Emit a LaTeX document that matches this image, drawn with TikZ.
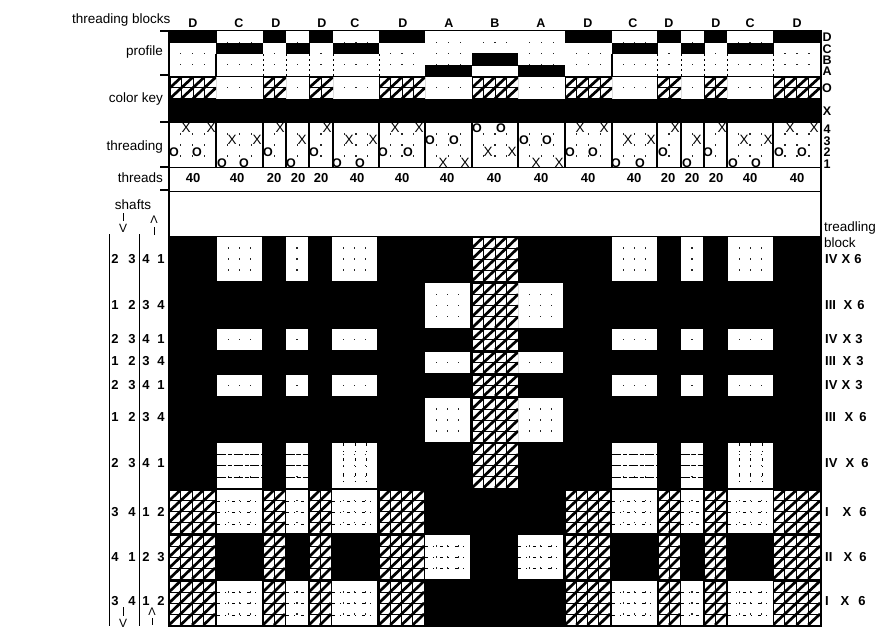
\documentclass[tikz,border=0pt]{standalone}
\usepackage{fontspec}
\setmainfont{Liberation Sans}
\newcommand\fs[1]{\fontsize{#1}{#1}\selectfont}
\tikzset{
  lab/.style={inner sep=0pt,font=\fs{13.5}},
  labr/.style={lab,anchor=east},
  labl/.style={lab,anchor=west},
  letter/.style={inner sep=0pt,font=\fs{12.5}\bfseries},
  num/.style={inner sep=0pt,font=\fs{13}\bfseries},
  mark x/.style={inner sep=0pt,font=\fs{13.5}},
  mark o/.style={inner sep=0pt,font=\fs{12.5}\bfseries},
  rule/.style={line width=1.3pt,black},
  thin rule/.style={line width=1.1pt,black},
  speck rule/.style={line width=.8pt,black,dash pattern=on 2pt off 3pt},
  graph line/.style={line width=.8pt,black,dash pattern=on 9pt off 2pt on 4pt off 1.5pt},
  graph specks/.style={line width=.8pt,black,dash pattern=on 3pt off 5pt on 1pt off 6pt},
}
% white block with faint specks at the grid points
\newcommand\wblk[6]{%
  \fill[white] (#1,#3) rectangle (#2,#4);
  \pgfmathsetmacro\dx{(#2-#1)/#5}\pgfmathsetmacro\dy{(#4-#3)/#6}
  \pgfmathtruncatemacro\nxm{#5-1}\pgfmathtruncatemacro\nym{#6-1}
  \foreach \ii in {1,...,\nxm}{\foreach \jj in {1,...,\nym}{
    \fill[black!85] ({#1+\ii*\dx-.7},{#3+\jj*\dy-.7}) rectangle ++(1.4,1.4);}}
}
% hatched block: white cells, thin grid, thick diagonals
\newcommand\hblk[6]{%
  \begin{scope}
  \clip (#1,#3) rectangle (#2,#4);
  \fill[white] (#1,#3) rectangle (#2,#4);
  \pgfmathsetmacro\dx{(#2-#1)/#5}\pgfmathsetmacro\dy{(#4-#3)/#6}
  \pgfmathtruncatemacro\nxm{#5-1}\pgfmathtruncatemacro\nym{#6-1}
  \foreach \ii in {0,...,\nxm}{\foreach \jj in {0,...,\nym}{
    \draw[line width=2.7pt] ({#1+\ii*\dx},{#3+(\jj+1)*\dy}) -- ++(\dx,-\dy);
    \draw[line width=.8pt] ({#1+\ii*\dx},{#3+\jj*\dy}) rectangle ++(\dx,\dy);}}
  \end{scope}
}
\newcommand\rowIV[3]{% white C, M; hatched B
  \foreach \a/\b/\n in {217/262/4,286/308/2,332/377/4,612/657/4,681/703/2,728/773/4}{\wblk{\a}{\b}{#1}{#2}{\n}{#3}}
  \hblk{472}{518}{#1}{#2}{4}{#3}
}
\newcommand\rowIII[3]{% white A; hatched B
  \foreach \a/\b in {425/470,518/563}{\wblk{\a}{\b}{#1}{#2}{4}{#3}}
  \hblk{472}{518}{#1}{#2}{4}{#3}
}
\newcommand\rowI[3]{% hatched D; white C, M
  \foreach \a/\b/\n in {169/215/4,263/285/2,309/331/2,379/424/4,565/610/4,658/680/2,704/726/2,773/820/4}{\hblk{\a}{\b}{#1}{#2}{\n}{#3}}
  \foreach \a/\b/\n in {217/262/4,286/308/2,332/377/4,612/657/4,681/703/2,728/773/4}{\wblk{\a}{\b}{#1}{#2}{\n}{#3}}
}
\newcommand\rowII[3]{% hatched D; white A
  \foreach \a/\b/\n in {169/215/4,263/285/2,309/331/2,379/424/4,565/610/4,658/680/2,704/726/2,773/820/4}{\hblk{\a}{\b}{#1}{#2}{\n}{#3}}
  \foreach \a/\b in {425/470,518/563}{\wblk{\a}{\b}{#1}{#2}{4}{#3}}
}
\begin{document}
\begin{tikzpicture}[x=1pt,y=-1pt]
\useasboundingbox (0,0) rectangle (882,634);
\fill[white] (0,0) rectangle (882,634);

% ---- upper chart: profile
\foreach \a/\b/\n in {169/216/4,216/263/4,263/286/2,286/309/2,309/333/2,333/379/4,379/425/4,425/472/4,472/518/4,518/565/4,565/612/4,612/657/4,657/681/2,681/704/2,704/727/2,727/773/4,773/821/4}{
  \wblk{\a}{\b}{31}{76}{\n}{4}}
\foreach \a/\b in {169/217,263/286,309/333,379/425,565/612,657/681,704/727,773/821}{\fill (\a,31) rectangle (\b,43);}
\foreach \a/\b in {216/263,286/310,333/379,612/658,681/705,727/774}{\fill (\a,43) rectangle (\b,54);}
\fill (472,53) rectangle (518,66);
\foreach \a/\b in {425/472,518/565}{\fill (\a,65) rectangle (\b,76);}
\foreach \x in {216,612}{\draw[thin rule] (\x,54) -- (\x,76);}
\foreach \x in {263,286,309,333,379,657,681,704,727,773}{\draw[speck rule] (\x,54) -- (\x,76);}

% ---- colour key
\fill (169,99) rectangle (821,123);
\foreach \a/\b/\n in {216/263/4,286/309/2,333/379/4,425/472/4,518/565/4,612/657/4,681/704/2,727/773/4}{\wblk{\a}{\b}{77}{98.5}{\n}{2}}
\foreach \a/\b/\n in {170/216/4,263/286/2,309/333/2,379/425/4,472/518/4,565/612/4,657/681/2,704/727/2,773/820/4}{\hblk{\a}{\b}{77}{98.5}{\n}{2}}

% ---- threading
\foreach \a/\b/\n in {169/216/4,216/263/4,263/286/2,286/309/2,309/333/2,333/379/4,379/425/4,425/472/4,472/518/4,518/565/4,565/612/4,612/657/4,657/681/2,681/704/2,704/727/2,727/773/4,773/821/4}{
  \wblk{\a}{\b}{123}{167}{\n}{4}}
\foreach \x in {216,263,286,309,333,379,425,472,518,565,612,657,681,704,727,773}{\draw[thin rule] (\x,123) -- (\x,167);}
\foreach \x/\y [count=\i] in {186/128,211/128,232/140,257/140,280/128,302/140,327/128,349/140,373/140,395/128,419/128,443/163,465/163,488/152,512/152,536/163,559/163,580/128,604/128,628/140,651/140,675/128,697/140,722/128,744/140,768/140,790/128,814/128}{
  \node[mark x] (tx\i) at (\x,\y) {X};}
\foreach \x/\y [count=\i] in {174/152,197/152,222/163,244/163,268/152,291/163,314/152,337/163,360/163,383/152,408/152,430/140,454/140,477/128,501/128,524/140,547/140,570/152,593/152,616/163,640/163,663/152,687/163,708/152,733/163,756/163,779/152,802/152}{
  \node[mark o] (to\i) at (\x,\y) {O};}

% ---- horizontal rules
\draw[rule] (169,30.5) -- (821,30.5);
\draw[rule] (169,76.5) -- (821,76.5);
\draw[rule] (169,167.8) -- (821,167.8);
\draw[rule] (169,191.8) -- (821,191.8);

% ---- drawdown
\fill (169,236) rectangle (821,627);
\rowIV{237}{281}{4}
\rowIII{283}{328}{4}
\rowIV{329}{350}{2}
\rowIII{352}{373}{2}
\rowIV{375}{396}{2}
\rowIII{398}{442}{4}
\rowIV{443}{488}{4}
\rowI{490}{533}{4}
\rowII{535}{579}{4}
\rowI{581}{625}{4}
% graph-paper lines showing through the lower white blocks
\foreach \y in {454,465,477}{
  \foreach \a/\b in {217/262,286/308,612/657,681/703}{
    \draw[graph line] (\a,\y) -- (\b,\y);}}
\foreach \y in {501,512,524,592,603,615}{
  \foreach \a/\b in {217/262,286/308,332/377,612/657,681/703,728/773}{
    \draw[graph specks] (\a,\y) -- (\b,\y);}}
\foreach \y in {546,557,568}{\foreach \a/\b in {425/470,518/563}{\draw[graph specks] (\a,\y) -- (\b,\y);}}
\foreach \x in {343,355,366,739,750,762}{\draw[graph specks] (\x,443) -- (\x,488);}

% ---- frame, ticks and side rules
\coordinate (ft) at (169,30); \coordinate (fb) at (169,627);
\coordinate (gt) at (821,30); \coordinate (gb) at (821,627);
\draw[line width=1.3pt] (ft) -- (fb);
\draw[line width=1.3pt] (gt) -- (gb);
\foreach \y in {31,75,122,167,190}{\draw[line width=1.4pt] (160,\y) -- (169,\y);}
\coordinate (la) at (109.5,234); \coordinate (lb) at (109.5,626);
\coordinate (ma) at (139.5,234); \coordinate (mb) at (139.5,626);
\draw[line width=1.1pt] (la) -- (lb);
\draw[line width=1.1pt] (ma) -- (mb);

% ---- arrows
\foreach \n/\x/\ya/\yb/\yc in {a/123/213/221/228,b/123/607/616/623}{
  \coordinate (d\n1) at (\x,\ya); \coordinate (d\n2) at (\x,\yb);
  \draw[line width=1pt] (d\n1) -- (d\n2);
  \node[inner sep=0pt,font=\fs{12}] (dv\n) at (\x,\yc) {V};}
\foreach \n/\x/\ya/\yb/\yc in {a/154/227/235/220,b/152/618/625/612}{
  \coordinate (u\n1) at (\x,\ya); \coordinate (u\n2) at (\x,\yb);
  \draw[line width=1pt] (u\n1) -- (u\n2);
  \node[inner sep=0pt,font=\fs{11}] (uv\n) at (\x,\yc) {Λ};}

% ---- left labels
\node[lab,anchor=west] (tb) at (72,20) {threading blocks};
\node[labr] (pr) at (163,52) {profile};
\node[labr] (ck) at (163,99) {color key};
\node[labr] (th) at (163,147) {threading};
\node[labr] (tr) at (163,178) {threads};
\node[lab] (sh) at (133,205) {shafts};

% ---- block letters
\foreach \x/\t [count=\i] in {193/D,239/C,276/D,322/D,355/C,403/D,449/A,495/B,541/A,588/D,633/C,669/D,716/D,750/C,797/D}{
  \node[letter] (bk\i) at (\x,23) {\t};}
% ---- thread counts
\foreach \x/\t [count=\i] in {193/40,237/40,274/20,298/20,321/20,357/40,402/40,447/40,494/40,541/40,588/40,634/40,668/20,692/20,716/20,750/40,797/40}{
  \node[num] (tc\i) at (\x,178.5) {\t};}

% ---- right letters
\foreach \y/\t [count=\i] in {37/D,49/C,60/B,71/A,88/O,111/X,129/4,141/3,152/2,164/1}{
  \node[letter] (rl\i) at (827,\y) {\t};}
\node[lab,anchor=west] (td) at (824,228) {treadling};
\node[lab,anchor=west] (bl) at (824,243) {block};

% ---- rows: shafts at left, treadling at right
\foreach \y/\a/\b/\c/\d/\r/\xx/\xn/\n [count=\i] in {
  259/2/3/4/1/IV/846/858/6,
  305/1/2/3/4/III/848/861/6,
  339/2/3/4/1/IV/847/859/3,
  361/1/2/3/4/III/847/860/3,
  385/2/3/4/1/IV/846/859/3,
  417/1/2/3/4/III/849/863/6,
  463/2/3/4/1/IV/850/865/6,
  512/3/4/1/2/I/847/863/6,
  557/4/1/2/3/II/848/863/6,
  601/3/4/1/2/I/845/862/6}{
  \node[num] (sa\i) at (115,\y) {\a};
  \node[num] (sb\i) at (132,\y) {\b};
  \node[num] (sc\i) at (146,\y) {\c};
  \node[num] (sd\i) at (161,\y) {\d};
  \node[num,anchor=west] (rr\i) at (825,\y) {\r};
  \node[num] (rx\i) at (\xx,\y) {X};
  \node[num] (rn\i) at (\xn,\y) {\n};
}
\end{tikzpicture}
\end{document}
